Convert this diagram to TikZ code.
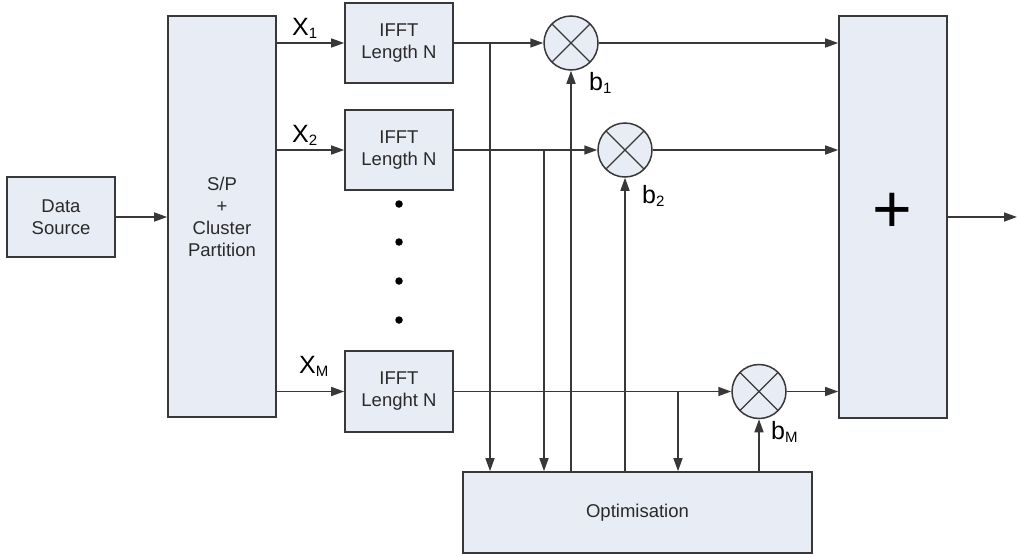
\documentclass[tikz,border=0pt]{standalone}
\usepackage{fontspec}
\setmainfont{Liberation Sans}
\usetikzlibrary{arrows.meta,calc}
\definecolor{boxfill}{HTML}{E8ECF5}
\definecolor{edge}{HTML}{383838}
\definecolor{txt}{HTML}{2A2A2A}
% subscript used in the channel and weight labels
\newcommand\lbsub[1]{\raisebox{-3.5pt}{\fontsize{15}{15}\selectfont #1}}
\begin{document}
\begin{tikzpicture}[x=1pt,y=-1pt,
  blk/.style={draw=edge, fill=boxfill, line width=1.6pt, minimum width=108pt,
    inner sep=0pt, align=center, text=txt, font=\fontsize{18.5}{22}\selectfont},
  mix/.style={circle, draw=edge, fill=boxfill, line width=1.5pt, minimum size=54pt,
    inner sep=0pt, path picture={
      \draw[edge, line width=1.2pt]
        (path picture bounding box.north west) -- (path picture bounding box.south east)
        (path picture bounding box.north east) -- (path picture bounding box.south west);}},
  arr/.style={draw=edge, line width=1.5pt, -{Triangle[length=13pt,width=9pt]}},
  lab/.style={anchor=base west, inner sep=0pt, text=black, font=\fontsize{25}{25}\selectfont},
  dot/.style={circle, fill=black, inner sep=0pt, minimum size=7.5pt}]

\useasboundingbox (0,0) rectangle (1017,557);

% processing blocks
\node[blk, minimum height=80pt]  (src) at (61,217)    {Data\\Source};
\node[blk, minimum height=401pt] (sp)  at (222,216.5) {S/P\\+\\Cluster\\Partition};
\node[blk, minimum height=80pt]  (f1)  at (399,43)    {IFFT\\Length N};
\node[blk, minimum height=80pt]  (f2)  at (399,150)   {IFFT\\Length N};
\node[blk, minimum height=81pt]  (fm)  at (399,391.5) {IFFT\\Lenght N};
\node[blk, minimum height=402pt] (sum) at (893,217)   {};
\node[inner sep=0pt, text=black, font=\fontsize{68}{68}\selectfont] (plus) at (892,213) {+};
\node[blk, minimum width=349pt, minimum height=81pt] (opt) at (637.5,512.5) {Optimisation};

% multipliers
\node[mix] (m1) at (571,43)    {};
\node[mix] (m2) at (625,150)   {};
\node[mix] (mm) at (759,391.5) {};

% ellipsis between the branches
\node[dot] (d1) at (399,204) {};
\node[dot] (d2) at (399,242) {};
\node[dot] (d3) at (399,281) {};
\node[dot] (d4) at (399,320) {};

% labels
\node[lab] (x1) at (292,35)  {X\lbsub{1}};
\node[lab] (x2) at (292,142) {X\lbsub{2}};
\node[lab] (xm) at (299,373) {X\lbsub{M}};
\node[lab] (b1) at (589,90)  {b\lbsub{1}};
\node[lab] (b2) at (642,203) {b\lbsub{2}};
\node[lab] (bm) at (771,439) {b\lbsub{M}};

% signal path
\draw[arr] (src) -- (src -| sp.west);
\draw[arr] (sp.east |- f1) -- (f1.west);
\draw[arr] (sp.east |- f2) -- (f2.west);
\draw[arr] (sp.east |- fm) -- (fm.west);
\draw[arr] (f1) -- (m1);
\draw[arr] (f2) -- (m2);
\draw[arr] (fm) -- (mm);
\draw[arr] (m1) -- (m1 -| sum.west);
\draw[arr] (m2) -- (m2 -| sum.west);
\draw[arr] (mm) -- (mm -| sum.west);
\coordinate (out) at (1017,217);
\draw[arr] (sum) -- (out);

% taps into the optimiser and weights back to the multipliers
\coordinate (t1) at (490,43);
\coordinate (t2) at (544,150);
\coordinate (t3) at (678,391.5);
\draw[arr] (t1) -- (t1 |- opt.north);
\draw[arr] (t2) -- (t2 |- opt.north);
\draw[arr] (t3) -- (t3 |- opt.north);
\draw[arr] (m1 |- opt.north) -- (m1);
\draw[arr] (m2 |- opt.north) -- (m2);
\draw[arr] (mm |- opt.north) -- (mm);
\end{tikzpicture}
\end{document}
